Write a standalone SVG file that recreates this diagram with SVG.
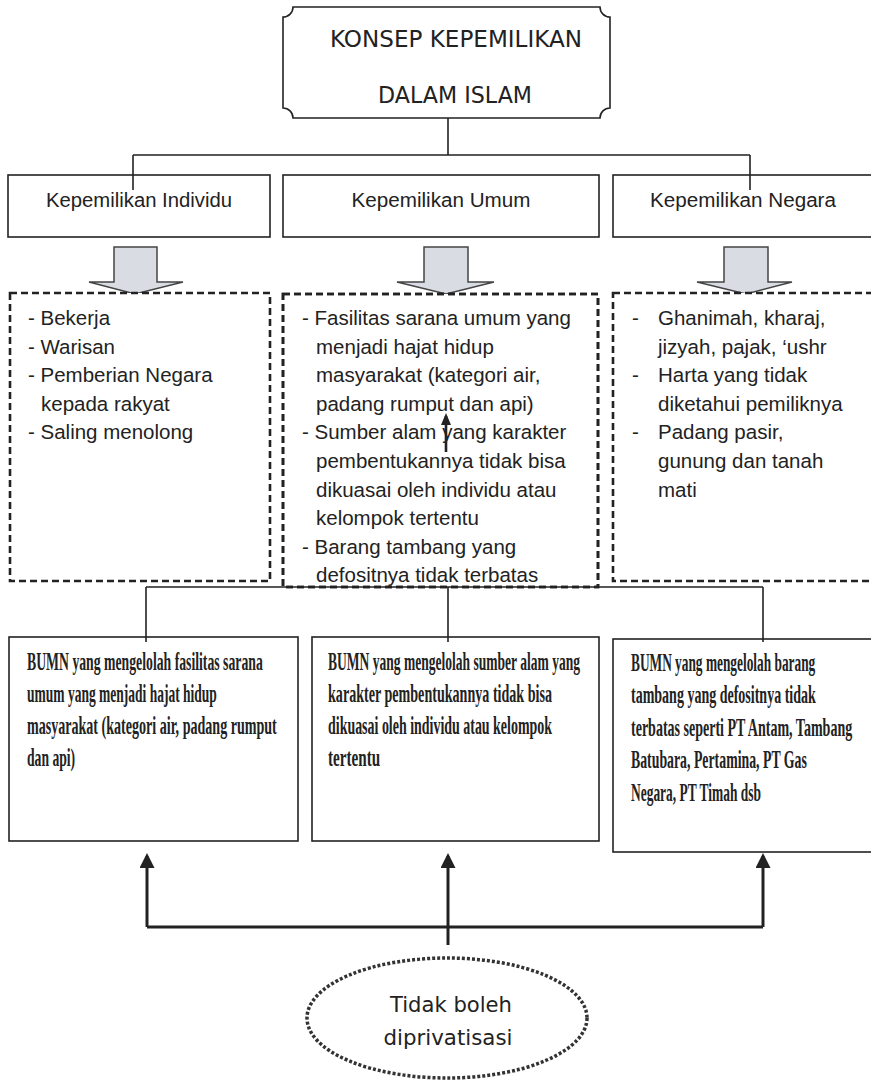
<svg xmlns="http://www.w3.org/2000/svg" width="871" height="1090" viewBox="0 0 871 1090">
<style>
.box{fill:#fff;stroke:#222;stroke-width:1.6}
.dash{fill:#fff;stroke:#222;stroke-width:2.6;stroke-dasharray:7 4}
.blk{fill:#d9dce3;stroke:#444;stroke-width:1.5}
.ln{fill:none;stroke:#222;stroke-width:1.6}
.thk{fill:none;stroke:#222;stroke-width:3}
.t1{font-family:"DejaVu Sans",sans-serif;font-size:23px;fill:#222}
.t2{font-family:"Liberation Sans",Arial,sans-serif;font-size:20px;fill:#222}
.t3{font-family:"Liberation Sans",Arial,sans-serif;font-size:20.5px;fill:#222}
.t4{font-family:"Liberation Serif","Times New Roman",serif;font-weight:bold;font-size:25px;fill:#222}
.t5{font-family:"DejaVu Sans",sans-serif;font-size:22px;fill:#222}
</style>
<defs>
<marker id="ah" markerUnits="userSpaceOnUse" markerWidth="16" markerHeight="16" refX="12" refY="7.5" orient="auto">
<path d="M0,0 L15,7.5 L0,15 z" fill="#222"/>
</marker>
<marker id="ahs" markerUnits="userSpaceOnUse" markerWidth="14" markerHeight="12" refX="9" refY="5" orient="auto">
<path d="M0,0 L12,5 L0,10 z" fill="#222"/>
</marker>
</defs>
<rect width="871" height="1090" fill="#fff"/>

<g id="root">
<path class="box" d="M293,7 H600 A10,10 0 0 0 610,17 V108 A10,10 0 0 0 600,118 H293 A10,10 0 0 0 283,108 V17 A10,10 0 0 0 293,7 Z"/>
<text class="t1" x="456" y="47" text-anchor="middle" textLength="252" lengthAdjust="spacingAndGlyphs">KONSEP KEPEMILIKAN</text>
<text class="t1" x="455" y="103" text-anchor="middle" textLength="154" lengthAdjust="spacingAndGlyphs">DALAM ISLAM</text>
</g>

<g id="individu">
<rect class="box" x="8" y="175" width="262" height="62"/>
<text class="t2" x="139" y="207" text-anchor="middle" textLength="186" lengthAdjust="spacingAndGlyphs">Kepemilikan Individu</text>
</g>
<g id="umum">
<rect class="box" x="283" y="175" width="316" height="62"/>
<text class="t2" x="441" y="207" text-anchor="middle" textLength="179" lengthAdjust="spacingAndGlyphs">Kepemilikan Umum</text>
</g>
<g id="negara">
<rect class="box" x="613" y="175" width="270" height="62"/>
<text class="t2" x="743" y="207" text-anchor="middle" textLength="186" lengthAdjust="spacingAndGlyphs">Kepemilikan Negara</text>
</g>

<g id="arrow1"><path class="blk" d="M114,247 H157 V282 H183 L135,294 L89,282 H114 Z"/></g>
<g id="arrow2"><path class="blk" d="M424,247 H468 V282 H494 L446,294 L397,282 H424 Z"/></g>
<g id="arrow3"><path class="blk" d="M724,247 H768 V282 H792 L746,294 L697,282 H724 Z"/></g>

<g id="list-individu">
<rect class="dash" x="10" y="293" width="260" height="288"/>
<text class="t3"><tspan x="28" y="325">- Bekerja</tspan><tspan x="28" y="353.6">- Warisan</tspan><tspan x="28" y="382.2">- Pemberian Negara</tspan><tspan x="41" y="410.8">kepada rakyat</tspan><tspan x="28" y="439.4">- Saling menolong</tspan></text>
</g>

<g id="list-umum">
<rect class="dash" x="283" y="294" width="315" height="293"/>
<text class="t3"><tspan x="302" y="325">- Fasilitas sarana umum yang</tspan><tspan x="316" y="353.6">menjadi hajat hidup</tspan><tspan x="316" y="382.2">masyarakat (kategori air,</tspan><tspan x="316" y="410.8">padang rumput dan api)</tspan><tspan x="302" y="439.4">- Sumber alam yang karakter</tspan><tspan x="316" y="468">pembentukannya tidak bisa</tspan><tspan x="316" y="496.6">dikuasai oleh individu atau</tspan><tspan x="316" y="525.2">kelompok tertentu</tspan><tspan x="302" y="553.8">- Barang tambang yang</tspan><tspan x="316" y="582.4">defositnya tidak terbatas</tspan></text>
<rect x="283" y="294" width="315" height="293" fill="none" stroke="#222" stroke-width="2.6" stroke-dasharray="7 4"/>
</g>

<g id="list-negara">
<rect class="dash" x="613" y="293" width="270" height="288"/>
<text class="t3"><tspan x="632" y="325">-</tspan><tspan x="658" y="325">Ghanimah, kharaj,</tspan><tspan x="658" y="353.6">jizyah, pajak, ‘ushr</tspan><tspan x="632" y="382.2">-</tspan><tspan x="658" y="382.2">Harta yang tidak</tspan><tspan x="658" y="410.8">diketahui pemiliknya</tspan><tspan x="632" y="439.4">-</tspan><tspan x="658" y="439.4">Padang pasir,</tspan><tspan x="658" y="468">gunung dan tanah</tspan><tspan x="658" y="496.6">mati</tspan></text>
</g>

<g id="bumn1">
<rect class="box" x="9" y="637" width="289" height="204"/>
<g transform="translate(27,0) scale(0.56,1)">
<text class="t4" x="0" y="670" textLength="421" lengthAdjust="spacingAndGlyphs">BUMN yang mengelolah fasilitas sarana</text>
<text class="t4" x="0" y="702" textLength="339" lengthAdjust="spacingAndGlyphs">umum yang menjadi hajat hidup</text>
<text class="t4" x="0" y="734" textLength="446" lengthAdjust="spacingAndGlyphs">masyarakat (kategori air, padang rumput</text>
<text class="t4" x="0" y="766" textLength="86" lengthAdjust="spacingAndGlyphs">dan api)</text>
</g>
</g>

<g id="bumn2">
<rect class="box" x="312" y="637" width="287" height="204"/>
<g transform="translate(328,0) scale(0.56,1)">
<text class="t4" x="0" y="670" textLength="450" lengthAdjust="spacingAndGlyphs">BUMN yang mengelolah sumber alam yang</text>
<text class="t4" x="0" y="702" textLength="400" lengthAdjust="spacingAndGlyphs">karakter pembentukannya tidak bisa</text>
<text class="t4" x="0" y="734" textLength="400" lengthAdjust="spacingAndGlyphs">dikuasai oleh individu atau kelompok</text>
<text class="t4" x="0" y="766" textLength="93" lengthAdjust="spacingAndGlyphs">tertentu</text>
</g>
</g>

<g id="bumn3">
<rect class="box" x="613" y="639" width="270" height="213"/>
<g transform="translate(631,0) scale(0.56,1)">
<text class="t4" x="0" y="671" textLength="329" lengthAdjust="spacingAndGlyphs">BUMN yang mengelolah barang</text>
<text class="t4" x="0" y="703.5" textLength="330" lengthAdjust="spacingAndGlyphs">tambang yang defositnya tidak</text>
<text class="t4" x="0" y="736" textLength="395" lengthAdjust="spacingAndGlyphs">terbatas seperti PT Antam, Tambang</text>
<text class="t4" x="0" y="768.5" textLength="314" lengthAdjust="spacingAndGlyphs">Batubara, Pertamina,  PT Gas</text>
<text class="t4" x="0" y="801" textLength="232" lengthAdjust="spacingAndGlyphs">Negara, PT Timah dsb</text>
</g>
</g>

<g id="privatisasi">
<ellipse cx="447" cy="1018" rx="140" ry="60" fill="#fff" stroke="#333" stroke-width="3.5" stroke-dasharray="3 2"/>
<text class="t5" x="451" y="1012" text-anchor="middle" textLength="122" lengthAdjust="spacingAndGlyphs">Tidak boleh</text>
<text class="t5" x="448" y="1045" text-anchor="middle" textLength="129" lengthAdjust="spacingAndGlyphs">diprivatisasi</text>
</g>

<g id="connectors">
<path class="ln" d="M448,118 V155 M133,155 H750 M133,155 V190 M750,155 V190"/>
<path class="ln" d="M146,587 H763 M146,587 V642 M448,587 V642 M763,587 V642"/>
<path class="thk" d="M147,927 H763"/>
<path class="thk" d="M147,927 V856" marker-end="url(#ah)"/>
<path class="thk" d="M763,927 V856" marker-end="url(#ah)"/>
<path class="thk" d="M448,945 V856" marker-end="url(#ah)"/>
<path fill="none" stroke="#222" stroke-width="2.6" d="M446,452 V416" marker-end="url(#ahs)"/>
</g>
</svg>
